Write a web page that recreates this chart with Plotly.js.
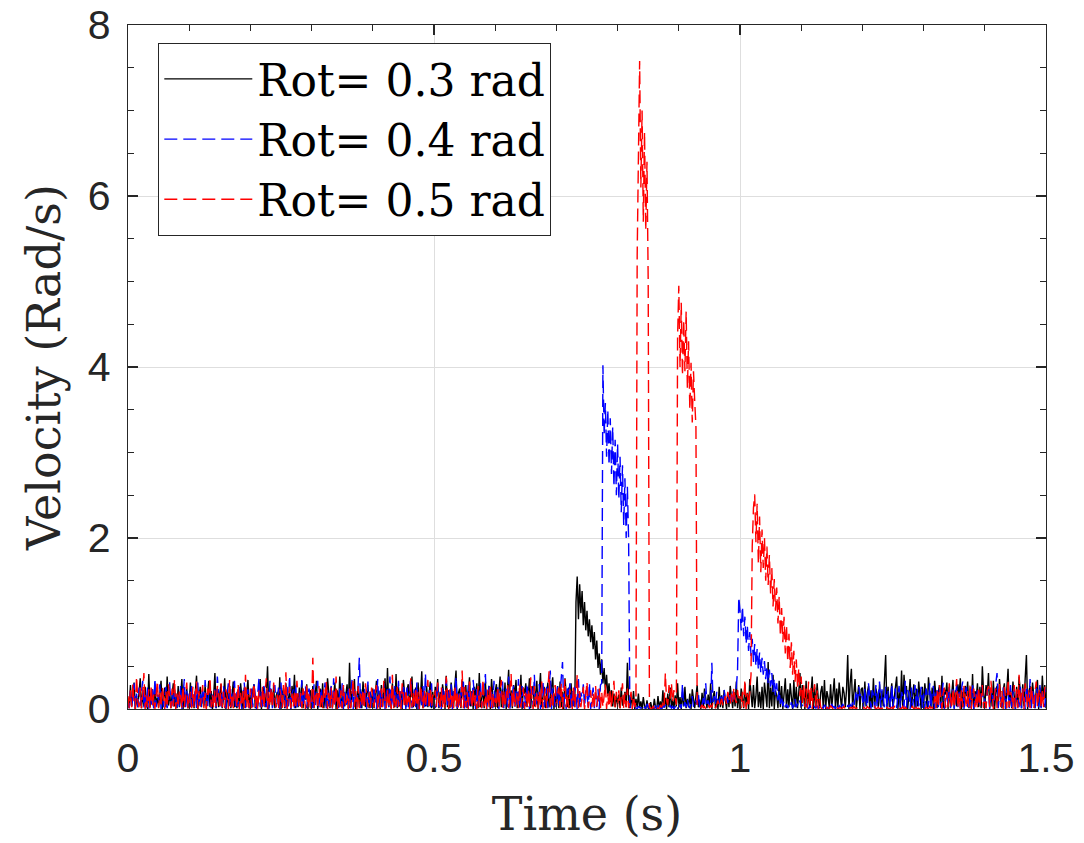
<!DOCTYPE html>
<html>
<head>
<meta charset="utf-8">
<script src="https://cdn.plot.ly/plotly-3.0.1.min.js"></script>
<style>html,body{margin:0;padding:0;background:#fff;}#chart{width:1084px;height:843px;}</style>
</head>
<body>
<div id="chart"></div>
<script>
// Sampling: each row holds 0.1 s of samples taken every 0.002 s
const dt = 0.002;
const rowSpan = 0.1;
const seriesNames = ["Rot= 0.3 rad", "Rot= 0.4 rad", "Rot= 0.5 rad"];
const xTickVals = [0, 0.5, 1, 1.5];
const xTickText = ["0", "0.5", "1", "1.5"];
const yTickVals = [0, 2, 4, 6, 8];
const yTickText = ["0", "2", "4", "6", "8"];

// Velocity (rad/s), Rot = 0.3 rad
const velRot03 = [
[.12,.01,.28,.03,.18,.31,0,.15,.02,.22,.36,.01,.19,.03,.26,.07,0,.41,.02,.14,.23,.01,.29,.04,.13,.02,.2,.33,0,.17,.25,.02,.38,.04,.21,.01,.15,.3,.03,.18,.01,.27,.02,.14,.35,0,.2,.03,.24,.01],
[.08,.31,.02,.17,.01,.22,.39,0,.15,.26,.02,.19,.03,.28,.01,.14,.33,.02,.21,0,.16,.42,.01,.24,.02,.18,.29,.01,.13,.36,0,.2,.03,.27,.01,.15,.32,.02,.12,.01,.23,.03,.3,.14,0,.25,.02,.19,.34,.01],
[.16,.02,.22,.29,.01,.12,.03,.19,.35,0,.14,.26,.02,.18,.5,.01,.11,.23,.02,.28,.01,.15,.2,.03,.37,0,.17,.24,.01,.3,.02,.15,.21,0,.27,.12,.4,.01,.18,.02,.25,.03,.33,.01,.2,.11,.29,0,.16,.22],
[.02,.27,.01,.19,.33,0,.15,.24,.02,.3,.01,.18,.03,.36,.2,.01,.26,.02,.16,.31,0,.22,.02,.38,.14,.01,.25,.03,.17,.29,.01,.54,.02,.21,.15,.35,0,.19,.27,.02,.23,.01,.32,.14,.02,.18,.28,.01,.2,.03],
[.24,.01,.17,.33,.02,.21,0,.28,.03,.19,.36,.01,.48,.02,.22,.01,.3,.12,.02,.41,.01,.26,.03,.2,0,.34,.16,.02,.23,.29,.01,.17,.38,.02,.12,.25,0,.31,.02,.15,.44,.01,.21,.03,.27,.02,.18,.32,.01,.2],
[.02,.26,.15,.35,.01,.2,.03,.29,.17,0,.39,.02,.22,.01,.31,.16,.02,.27,.45,0,.19,.24,.01,.33,.14,.02,.28,.01,.18,.37,.03,.21,0,.26,.15,.3,.01,.42,.02,.17,.23,.01,.32,.03,.19,.27,0,.35,.16,.02],
[.2,.29,.01,.17,.38,.02,.24,.03,.31,0,.19,.46,.02,.22,.01,.28,.16,.34,.01,.2,.02,.4,0,.25,.18,.3,.02,.15,.36,.01,.23,.27,.03,.19,.33,0,.17,.42,.02,.14,.26,.01,.2,.31,.02,.15,.24,.37,0,.18],
[.03,.27,.01,.32,.02,.2,0,.36,.18,.02,.25,.01,.3,.03,.19,.02,1.25,1.55,1.05,1.46,1.12,1.38,.98,1.25,.92,1.15,.85,1.05,.78,.98,.7,.9,.58,.8,.48,.65,.4,.58,.3,.48,.22,.4,.15,.3,.08,.22,.03,.18,.02,.15],
[.06,.17,.01,.25,.04,.14,.2,.02,.54,.11,.01,.16,.03,.21,0,.12,.02,.18,.01,.09,0,.14,.03,0,.1,.01,0,.08,.01,0,.12,.02,0,.15,.01,.09,0,.22,.02,.13,0,.18,.02,.25,.01,.11,0,.16,.03,.3],
[.02,.14,0,.2,.03,.26,.01,.12,.02,.18,0,.23,.1,.01,.15,.28,.02,.11,0,.19,.03,.24,.13,.01,.17,.02,.3,0,.14,.21,.01,.12,0,.26,.02,.16,.01,.22,.11,0,.19,.02,.27,.13,.01,.2,.03,.32,.01,.15],
[.02,.24,.14,.01,.3,.03,.19,0,.35,.13,.02,.28,.01,.15,.38,.02,.2,.01,.26,0,.31,.17,.02,.55,.01,.25,.03,.4,0,.21,.16,.01,.33,.02,.27,0,.18,.36,.01,.23,.02,.3,.14,0,.34,.02,.26,.01,.19,.42],
[.01,.28,.15,0,.33,.02,.22,.01,.18,.38,0,.25,.02,.3,.11,.01,.2,.27,.02,.34,0,.21,.13,.01,.29,.03,.18,.36,0,.24,.02,.31,.15,.01,.26,.19,.02,.22,.63,0,.3,.47,.02,.2,.35,.01,.17,.28,0,.23],
[.25,.01,.32,.03,.19,.27,0,.22,.02,.36,.01,.24,.17,.02,.29,.01,.21,.03,.33,.63,0,.26,.02,.18,.3,.01,.15,.23,.38,0,.2,.02,.45,.01,.4,.17,.27,0,.22,.35,.02,.19,.29,.01,.24,.03,.32,.16,0,.26],
[.02,.3,.14,.01,.37,.12,.02,.25,0,.33,.15,.01,.2,.28,.02,.39,.01,.23,.17,.31,0,.26,.02,.19,.34,.01,.22,.03,.29,.16,.36,0,.2,.02,.27,.15,.32,.01,.24,.02,.41,0,.21,.13,.3,.02,.26,.01,.5,.19],
[.02,.28,.16,.42,.01,.24,.03,.33,0,.2,.27,.02,.35,.15,.01,.22,.3,0,.25,.47,.02,.21,.01,.32,.16,0,.26,.02,.38,.19,.01,.29,.03,.36,.63,0,.2,.27,.02,.31,.15,.01,.22,.34,0,.25,.02,.39,.11,.28,.01]
];

// Velocity (rad/s), Rot = 0.4 rad
const velRot04 = [
[.1,.01,.21,.03,.15,.3,0,.18,.02,.25,.04,.16,.33,.01,.2,.02,.27,0,.19,.05,.23,.01,.36,.02,.17,.1,.29,0,.21,.02,.13,.26,.01,.09,.32,.02,.18,0,.24,.11,.01,.2,.03,.28,0,.16,.35,.02,.22,.01],
[.19,.02,.27,.01,.13,.22,0,.31,.04,.18,.01,.25,.02,.34,.14,0,.2,.29,.01,.17,.03,.23,.01,.38,.15,.02,.21,0,.27,.09,.01,.18,.3,.02,.24,0,.16,.33,.01,.2,.02,.26,.14,0,.19,.31,.01,.17,.23,.02],
[.01,.24,.02,.3,.15,0,.18,.36,.02,.2,.01,.27,.14,.02,.22,0,.33,.1,.01,.19,.28,.02,.17,.25,0,.31,.02,.21,.15,.01,.26,.03,.39,0,.18,.23,.01,.29,.02,.14,.2,0,.34,.02,.12,.27,.01,.19,.24,.02],
[.15,.01,.29,.02,.2,.33,0,.18,.25,.02,.14,.31,.01,.22,.03,.17,.27,0,.36,.02,.19,.11,.01,.24,.03,.3,0,.21,.12,.02,.26,.01,.18,.34,0,.23,.15,.02,.28,.6,.01,.2,.03,.25,.17,0,.32,.02,.22,.01],
[.02,.26,.13,0,.35,.02,.22,.01,.15,.3,0,.18,.24,.02,.38,.01,.2,.03,.27,.16,0,.33,.02,.21,.01,.29,.13,0,.25,.02,.19,.36,.01,.15,.23,.02,.31,0,.18,.2,.01,.27,.02,.42,0,.17,.24,.01,.3,.02],
[.13,.01,.22,.31,.02,.16,0,.27,.03,.19,.35,.01,.24,.02,.29,0,.21,.14,.38,.01,.18,.02,.26,.15,.32,0,.2,.02,.28,.01,.23,.03,.34,.16,0,.25,.02,.19,.3,.01,.14,.22,.41,0,.17,.27,.02,.2,.01,.33],
[.02,.18,.26,0,.21,.14,.32,.01,.17,.24,.02,.38,0,.2,.15,.28,.01,.23,.02,.35,0,.19,.27,.01,.16,.03,.3,.14,0,.22,.25,.02,.4,.01,.12,.21,.29,0,.15,.33,.02,.18,.26,.01,.2,.45,0,.24,.16,.02],
[.14,.27,.01,.2,.33,.55,.02,.18,0,.24,.15,.3,.01,.21,.03,.26,.16,0,.35,.02,.19,.13,.29,.01,.22,.17,.02,.31,0,.14,.25,.01,.19,.02,.23,0,.28,.3,4.02,3.2,3.58,2.95,3.5,2.85,3.4,2.75,3.3,2.6,3.15,2.5],
[3.1,2.45,2.95,2.3,2.85,2.15,2.7,2.0,2.6,1.98,.03,.01,0,.02,.05,.01,0,.03,.02,.01,.04,0,.02,.01,.06,.02,0,.03,.01,.02,0,.04,.01,.02,.08,.01,0,.03,.02,.05,.01,0,.02,.04,.01,.03,0,.02,.06,.01],
[.02,.05,.01,.3,.03,.08,.02,.12,.04,.01,.06,.15,.03,.02,.1,.05,.18,.02,.07,.04,.13,.03,.3,.06,.1,.04,.02,.54,.08,.15,.05,.2,.1,.06,.18,.12,.08,.23,.1,.16,.07,.2,.13,.09,.22,.11,.17,.25,.45,1.31],
[1.15,.92,1.2,.85,1.08,.76,.98,.68,.9,.62,.82,.55,.76,.5,.7,.46,.66,.42,.6,.4,.56,.35,.5,.3,.46,.26,.42,.2,.36,.16,.3,.1,.22,.06,.15,.03,.1,.02,.06,.01,.05,.02,.08,.01,.04,.12,.02,.06,.03,.1],
[.02,.05,.01,.03,.06,.02,0,.04,.01,.03,.05,.02,.01,.04,0,.03,.06,.02,.01,.05,.03,0,.02,.04,.01,.06,.02,.03,0,.05,.01,.04,.02,.03,.06,.01,.02,0,.04,.03,.05,.02,.08,.03,.12,.22,.1,.26,.15,.2],
[.12,.01,.25,.08,.02,.3,.14,0,.22,.17,.01,.28,.02,.2,.32,0,.23,.13,.02,.26,.01,.21,.16,0,.29,.02,.19,.24,.01,.17,.27,0,.2,.15,.02,.33,.01,.22,.18,0,.25,.02,.2,.28,.01,.23,.03,.19,.26,.01],
[.18,0,.24,.15,.02,.3,.01,.2,.27,0,.17,.22,.02,.25,.01,.19,.31,0,.14,.21,.02,.26,.01,.18,.23,0,.15,.28,.02,.2,.01,.24,.32,0,.19,.26,.02,.16,.01,.22,.29,0,.18,.02,.25,.15,.01,.2,.27,.02],
[.14,.01,.21,.26,0,.17,.23,.02,.19,.3,.42,.01,.2,.11,.02,.25,.16,0,.22,.18,.01,.28,.02,.19,.24,0,.21,.17,.02,.26,.01,.2,.23,0,.27,.15,.02,.35,.01,.22,.16,0,.25,.19,.02,.28,.01,.2,.15,.02,.24]
];

// Velocity (rad/s), Rot = 0.5 rad
const velRot05 = [
[.15,.01,.22,.02,.3,.05,0,.38,.1,.02,.25,.01,.2,.42,0,.16,.02,.23,.01,.28,.03,.17,0,.21,.33,.01,.19,.02,.26,.14,0,.2,.02,.29,.16,.01,.24,.03,.35,0,.18,.02,.22,.15,.01,.27,.02,.19,.31,0],
[.09,.2,.01,.26,.02,.17,.32,0,.21,.03,.15,.28,.01,.19,0,.24,.14,.37,.02,.16,.01,.22,.03,.27,.18,0,.3,.02,.2,.01,.23,.15,0,.34,.02,.18,.01,.25,.16,.02,.29,0,.19,.03,.21,.01,.4,.02,.17,.01],
[.24,.01,.16,.3,.02,.19,0,.22,.14,.02,.27,.01,.18,.36,0,.2,.03,.25,.01,.31,.13,.02,.17,0,.23,.16,.01,.28,.02,.43,0,.15,.26,.01,.18,.02,.22,0,.33,.1,.02,.19,.01,.24,.16,0,.29,.02,.2,.01],
[.02,.6,.01,.14,.21,0,.27,.02,.18,.01,.23,.13,.32,0,.19,.02,.25,.01,.2,.03,.38,0,.17,.02,.22,.01,.28,.1,.02,.16,0,.24,.01,.19,.35,.02,.21,0,.27,.01,.18,.03,.23,0,.3,.16,.02,.2,.01,.25],
[.14,.02,.19,.28,0,.17,.01,.24,.02,.33,.1,.01,.22,.02,.18,0,.4,.01,.16,.03,.26,.02,.21,0,.3,.12,.01,.23,.02,.15,0,.36,.02,.19,.01,.25,.03,.2,0,.28,.16,.01,.22,.02,.18,.34,0,.24,.02,.17],
[.01,.22,.02,.31,.11,0,.25,.02,.2,.01,.38,.16,0,.23,.02,.19,.01,.28,.03,.21,0,.17,.02,.45,.01,.26,.02,.2,0,.32,.13,.01,.24,.02,.16,0,.27,.02,.2,.01,.35,.03,.17,0,.23,.02,.29,.01,.19,.02],
[.13,.01,.26,.02,.2,.34,0,.22,.02,.14,.28,.01,.18,.41,0,.24,.02,.15,.2,.01,.3,.02,.17,.25,0,.19,.02,.23,.01,.37,.12,0,.27,.02,.18,.01,.21,.03,.32,0,.15,.24,.01,.19,.44,.02,.17,.01,.22,.28],
[.02,.18,.25,.01,.3,0,.2,.35,.02,.17,.01,.23,.15,0,.28,.02,.19,.4,.01,.21,.02,.16,.26,0,.18,.32,.01,.15,.22,.02,.19,0,.27,.03,.17,.24,.01,.2,.02,.14,.29,0,.18,.02,.23,.01,.15,.33,.02,.2],
[.02,.22,.01,.17,.3,0,.19,.02,.24,.01,.09,.2,0,.15,.02,.1,5.3,6.6,7.58,6.1,7.0,5.7,6.75,5.6,6.4,5.0,.02,.01,0,.03,.01,.05,.02,0,.01,.04,.02,.08,.03,.42,.1,.05,.28,.12,.3,.08,.22,.15,.05,4.35],
[4.95,4.0,4.75,3.9,4.55,3.95,4.65,3.75,4.3,3.5,4.05,3.35,3.95,3.6,3.3,.03,.01,0,.02,.05,.01,.03,0,.02,.06,.01,.04,.02,.08,.03,.01,.05,.1,.02,.06,.12,.04,.08,.15,.06,.2,.1,.05,.18,.08,.25,.12,.07,.22,.1],
[.15,.01,.2,.02,.34,0,.18,.02,.25,.4,1.9,2.35,2.51,1.95,2.4,1.7,2.25,1.6,2.1,1.65,2.0,1.5,1.9,1.45,1.8,1.35,1.65,1.2,1.52,1.15,1.42,1.0,1.32,.85,1.18,.78,1.08,.65,.98,.55,.88,.48,.78,.4,.68,.32,.58,.25,.48,.15],
[.38,.05,.3,.02,.24,.01,.32,.03,.26,0,.2,.29,.02,.22,0,.12,.02,0,.01,.03,0,.02,.01,0,.04,.01,0,.02,.01,.03,0,.01,.02,0,.01,.03,0,.02,.01,0,.01,.02,0,.03,.01,0,.02,.01,0,.01],
[0,.02,.01,0,.03,.01,0,.02,0,.01,.03,0,.01,.02,0,.01,0,.03,.01,0,.02,.01,0,.01,.02,0,.03,.01,0,.02,.01,0,.01,.03,0,.02,0,.01,.02,0,.01,.03,0,.01,.02,0,.01,0,.02,.01],
[.01,0,.02,.01,0,.03,.01,.02,0,.15,.01,.22,.02,.28,.12,0,.18,.25,.01,.2,.02,.3,.12,0,.24,.02,.17,.35,.01,.19,0,.22,.02,.27,.13,.01,.21,.02,.3,0,.14,.24,.02,.18,.01,.26,.02,.2,.28,.01],
[.12,.01,.22,.27,.02,.33,.15,0,.19,.24,.01,.18,.3,.02,.21,0,.26,.13,.01,.35,.02,.2,.15,0,.28,.02,.23,.01,.4,.02,.19,.25,0,.3,.11,.02,.22,.01,.27,.13,0,.2,.32,.02,.18,.24,.01,.21,.02,.26,.19]
];

function toXY(rows) {
  const x = [], y = [];
  rows.forEach((row, r) => row.forEach((v, j) => {
    x.push(Math.round((r * rowSpan + j * dt) * 10000) / 10000);
    y.push(v);
  }));
  return {x, y};
}

const serif = "'DejaVu Serif', 'Liberation Serif', serif";
const sans = "'Liberation Sans', Arial, sans-serif";
const ink = "#262626";

const d03 = toXY(velRot03), d04 = toXY(velRot04), d05 = toXY(velRot05);
const traces = [
  {x: d03.x, y: d03.y, name: seriesNames[0], type: "scatter", mode: "lines",
   line: {color: "#000000", width: 1.4}},
  {x: d04.x, y: d04.y, name: seriesNames[1], type: "scatter", mode: "lines",
   line: {color: "#0000ff", width: 1.4, dash: "13px,6px"}},
  {x: d05.x, y: d05.y, name: seriesNames[2], type: "scatter", mode: "lines",
   line: {color: "#ff0000", width: 1.4, dash: "13px,6px"}}
];

const axisCommon = {
  showline: true, linecolor: ink, linewidth: 1.3, mirror: "allticks",
  ticks: "inside", ticklen: 10, tickwidth: 1.3, tickcolor: ink,
  showgrid: true, gridcolor: "#dedede", gridwidth: 1, zeroline: false,
  tickfont: {family: sans, size: 41, color: ink}
};

const layout = {
  width: 1084, height: 843,
  margin: {l: 128, r: 38, t: 25, b: 134},
  paper_bgcolor: "#ffffff", plot_bgcolor: "#ffffff",
  showlegend: true,
  xaxis: Object.assign({}, axisCommon, {
    range: [0, 1.5], tickmode: "array", tickvals: xTickVals, ticktext: xTickText,
    ticklabelstandoff: 12,
    minor: {dtick: 0.1, tick0: 0, ticks: "inside", ticklen: 6, tickcolor: ink, showgrid: false},
    title: {text: "Time (s)", font: {family: serif, size: 46, color: ink}, standoff: 18}
  }),
  yaxis: Object.assign({}, axisCommon, {
    range: [0, 8], tickmode: "array", tickvals: yTickVals, ticktext: yTickText,
    ticklabelstandoff: 8,
    minor: {dtick: 0.5, tick0: 0, ticks: "inside", ticklen: 6, tickcolor: ink, showgrid: false},
    title: {text: "Velocity (Rad/s)", font: {family: serif, size: 46, color: ink}, standoff: 12}
  }),
  legend: {
    x: 0.033, y: 0.974, xanchor: "left", yanchor: "top",
    bgcolor: "#ffffff", bordercolor: ink, borderwidth: 1,
    font: {family: serif, size: 44, color: "#000000"},
    itemwidth: 88, tracegroupgap: 0
  }
};

Plotly.newPlot("chart", traces, layout, {displayModeBar: false, staticPlot: true});
</script>
</body>
</html>
